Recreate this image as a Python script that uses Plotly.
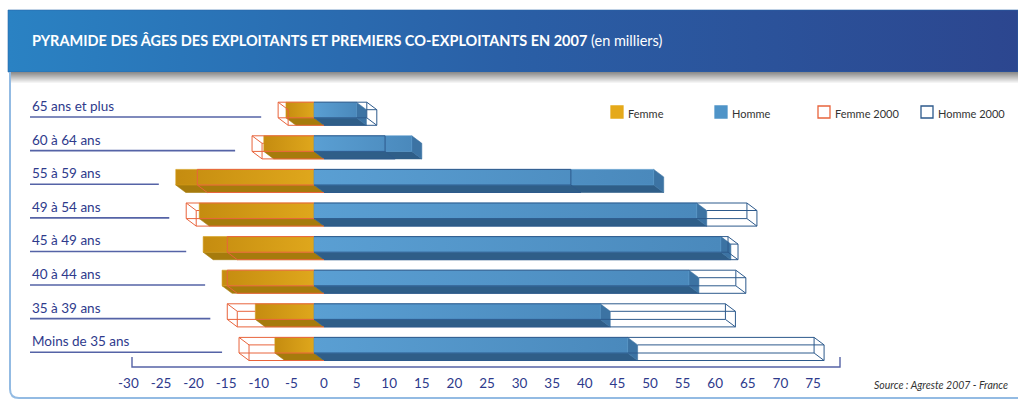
import plotly.graph_objects as go

# ---- data (milliers) -------------------------------------------------------
AGES = ["65 ans et plus", "60 à 64 ans", "55 à 59 ans", "49 à 54 ans",
        "45 à 49 ans", "40 à 44 ans", "35 à 39 ans", "Moins de 35 ans"]
FEMME_2007 = [4.3, 7.7, 21.2, 17.6, 17.0, 14.1, 9.0, 6.0]
FEMME_2000 = [5.5, 9.5, 17.9, 19.6, 13.3, 13.3, 13.3, 11.5]
HOMME_2007 = [6.5, 15.0, 52.1, 58.7, 62.4, 57.5, 43.9, 48.1]
HOMME_2000 = [8.1, 10.9, 39.4, 66.4, 63.5, 64.7, 63.1, 76.7]
TICK_VALUES = [-30, -25, -20, -15, -10, -5, 0, 5, 10, 15, 20, 25,
               30, 35, 40, 45, 50, 55, 60, 65, 70, 75]
TICK_LABELS = ["-30", "-25", "-20", "-15", "-10", "-5", "0", "5", "10", "15",
               "20", "25", "30", "35", "40", "45", "50", "55", "60", "65",
               "70", "75"]
LEGEND = ["Femme", "Homme", "Femme 2000", "Homme 2000"]
TITLE = "PYRAMIDE DES ÂGES DES EXPLOITANTS ET PREMIERS CO-EXPLOITANTS EN 2007"
SUBTITLE = "(en milliers)"
SOURCE = "Source : Agreste 2007 - France"

# ---- geometry --------------------------------------------------------------
W, H = 1018, 401
PX_PER_UNIT = 6.52
ZERO_PX = 324
ROW_PX = 33.6
ROW0_PX = 110
AXIS_PX = 367

X_RANGE = [-ZERO_PX / PX_PER_UNIT, (W - ZERO_PX) / PX_PER_UNIT]
Y_RANGE = [(H - ROW0_PX) / ROW_PX, -ROW0_PX / ROW_PX]
DX = 10 / PX_PER_UNIT        # depth of the 3D boxes (x)
DY = 7.5 / ROW_PX            # depth of the 3D boxes (y)
HALF = 7.8 / ROW_PX          # half height of the front face

FONT = "Lato, Roboto, sans-serif"
NAVY = "#2e3a8c"
RULE = "#5563a6"
OR_SIDE, BL_SIDE, BL_END = "#a67b0c", "#2f5e88", "#3c73a3"
OR_EDGE, BL_EDGE = "#e8643c", "#2d5a8c"

fig = go.Figure()


def front(v):
    return v - DX


def poly(xs, ys, fill, line_color=None, grad=None, axes=("x", "y")):
    kw = dict(fillgradient=dict(type="horizontal", colorscale=grad)) if grad else {}
    fig.add_trace(go.Scatter(
        x=xs + [xs[0]], y=ys + [ys[0]], mode="lines", fill="toself",
        fillcolor=fill, line=dict(width=0.6, color=line_color or fill),
        hoverinfo="skip", showlegend=False, xaxis=axes[0], yaxis=axes[1], **kw))


def wire(v07, v00, sign, yt, yb, color):
    a = sign * v00
    segs = [
        [(front(0), yt), (front(a), yt)],
        [(front(0), yb), (front(a), yb)],
        [(0, yb + DY), (a, yb + DY)],
        [(front(a), yt), (front(a), yb)],
        [(front(a), yb), (a, yb + DY)],
    ]
    if v00 > v07:
        start = front(sign * v07) if sign < 0 else sign * v07
        segs += [
            [(start, yt + DY), (a, yt + DY)],
            [(front(a), yt), (a, yt + DY)],
            [(a, yt + DY), (a, yb + DY)],
        ]
    xs, ys = [], []
    for s in segs:
        xs += [s[0][0], s[1][0], None]
        ys += [s[0][1], s[1][1], None]
    fig.add_trace(go.Scatter(x=xs, y=ys, mode="lines",
                             line=dict(color=color, width=1.0),
                             hoverinfo="skip", showlegend=False))


# ---- 3D bars ---------------------------------------------------------------
for i in range(len(AGES)):
    f, h = FEMME_2007[i], HOMME_2007[i]
    yt, yb = i - HALF, i + HALF
    poly([front(-f), front(0), 0, -f], [yb, yb, yb + DY, yb + DY], OR_SIDE)
    poly([front(0), front(h), h, 0], [yb, yb, yb + DY, yb + DY], BL_SIDE)
    poly([front(h), h, h, front(h)], [yt, yt + DY, yb + DY, yb], BL_END)
    poly([front(-f), front(0), front(0), front(-f)], [yt, yt, yb, yb],
         "#d49c17", grad=[[0, "#c58c10"], [1, "#dfa71c"]])
    poly([front(0), front(h), front(h), front(0)], [yt, yt, yb, yb],
         "#5295c9", grad=[[0, "#5a9fd3"], [1, "#4a89bc"]])
    wire(f, FEMME_2000[i], -1, yt, yb, OR_EDGE)
    wire(h, HOMME_2000[i], 1, yt, yb, BL_EDGE)

# ---- banner and frame (pixel axes) -----------------------------------------
poly([8, W, W, 8], [10, 10, 72, 72], "#2a66a8",
     grad=[[0, "#2a82c3"], [0.5, "#2a5fa6"], [1, "#2c468f"]], axes=("x2", "y2"))

shapes = []
for k in range(12):
    g = int(140 + k * 115 / 11)
    shapes.append(dict(type="line", xref="x2", yref="y2", x0=10, x1=W,
                       y0=72.5 + k, y1=72.5 + k,
                       line=dict(color=f"rgb({g},{g},{g})", width=1.2)))
shapes.append(dict(type="path", xref="x2", yref="y2",
                   path="M 10,72 L 10,389 Q 10,398 19,398 L 1018,398",
                   line=dict(color="#93bbe3", width=2)))

# category labels with their rules
annotations = []
for i, name in enumerate(AGES):
    annotations.append(dict(text=name, xref="x2", yref="y", x=30, y=i - 0.12,
                            xanchor="left", yanchor="middle", showarrow=False,
                            font=dict(family=FONT, size=13.5, color=NAVY)))
    left = -max(FEMME_2007[i], FEMME_2000[i]) - DX - 2.6
    shapes.append(dict(type="line", xref="x", yref="y",
                       x0=(30 - ZERO_PX) / PX_PER_UNIT, x1=left,
                       y0=i + 0.21, y1=i + 0.21,
                       line=dict(color=RULE, width=1.6)))

# axis bracket
x_lo, x_hi = (132 - ZERO_PX) / PX_PER_UNIT, (840 - ZERO_PX) / PX_PER_UNIT
shapes.append(dict(type="path", xref="x", yref="y2",
                   path=f"M {x_lo},357 L {x_lo},{AXIS_PX} L {x_hi},{AXIS_PX} L {x_hi},357",
                   line=dict(color=RULE, width=1.4)))

# title
annotations.append(dict(text=f"<b>{TITLE}</b> {SUBTITLE}", xref="x2", yref="y2",
                        x=30, y=40, xanchor="left", yanchor="middle",
                        showarrow=False,
                        font=dict(family=FONT, size=14.5, color="white")))

# legend
legend_x = [617, 721, 824, 927]
legend_marks = [("square", "#e5a919"), ("square", "#4f94c8"),
                ("square-open", OR_EDGE), ("square-open", BL_EDGE)]
for lx, (sym, col), text in zip(legend_x, legend_marks, LEGEND):
    fig.add_trace(go.Scatter(x=[lx], y=[112], mode="markers",
                             marker=dict(symbol=sym, size=12, color=col,
                                         line=dict(width=1.3, color=col)),
                             xaxis="x2", yaxis="y2", hoverinfo="skip",
                             showlegend=False))
    annotations.append(dict(text=text, xref="x2", yref="y2", x=lx + 9, y=113,
                            xanchor="left", yanchor="middle", showarrow=False,
                            font=dict(family=FONT, size=11, color="#333333")))

# source
annotations.append(dict(text=f"<i>{SOURCE}</i>", xref="x2", yref="y2",
                        x=1010, y=385, xanchor="right", yanchor="middle",
                        showarrow=False,
                        font=dict(family=FONT, size=10.5, color="#333333")))

fig.update_layout(
    width=W, height=H, margin=dict(l=0, r=0, t=0, b=0),
    paper_bgcolor="white", plot_bgcolor="rgba(0,0,0,0)",
    showlegend=False, shapes=shapes, annotations=annotations,
    xaxis=dict(range=X_RANGE, anchor="free", position=1 - AXIS_PX / H,
               showgrid=False, zeroline=False, showline=False, ticks="",
               tickvals=TICK_VALUES, ticktext=TICK_LABELS,
               ticklabelstandoff=6,
               tickfont=dict(family=FONT, size=13.5, color=NAVY),
               fixedrange=True),
    yaxis=dict(range=Y_RANGE, visible=False, fixedrange=True),
    xaxis2=dict(range=[0, W], overlaying="x", visible=False, fixedrange=True),
    yaxis2=dict(range=[H, 0], overlaying="y", visible=False, fixedrange=True),
)

fig.write_html("out.html", config={"displayModeBar": False})
